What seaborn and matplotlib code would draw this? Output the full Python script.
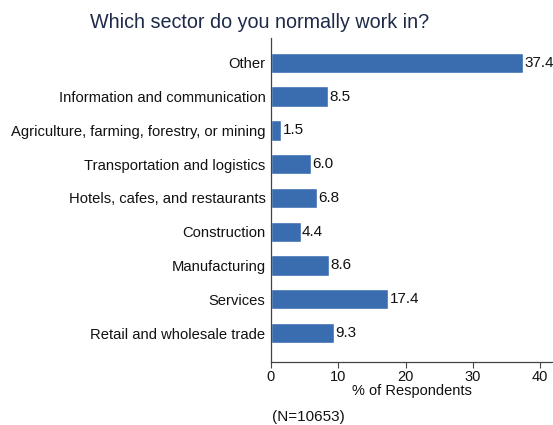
import matplotlib
matplotlib.use("Agg")
import matplotlib.pyplot as plt
import seaborn as sns
import pandas as pd

sectors = [
    "Other",
    "Information and communication",
    "Agriculture, farming, forestry, or mining",
    "Transportation and logistics",
    "Hotels, cafes, and restaurants",
    "Construction",
    "Manufacturing",
    "Services",
    "Retail and wholesale trade",
]
percent = [37.4, 8.5, 1.5, 6.0, 6.8, 4.4, 8.6, 17.4, 9.3]
x_ticks = [0, 10, 20, 30, 40]

df = pd.DataFrame({"sector": sectors, "percent": percent})

sns.set_theme(style="white")
plt.rcParams["font.family"] = ["Liberation Sans", "DejaVu Sans"]

fig = plt.figure(figsize=(5.53, 4.25), dpi=100)
ax = fig.add_axes([0.490, 0.148, 0.510, 0.763])

sns.barplot(data=df, x="percent", y="sector", order=sectors, orient="h",
            color="#3a6db0", saturation=1, width=0.6, ax=ax)

ax.bar_label(ax.containers[0], fmt="%.1f", padding=1, fontsize=11, color="#111111")

ax.set_xlim(0, 41.9)
ax.set_ylim(8.86, -0.74)
ax.set_xticks(x_ticks)
ax.set_xticklabels([str(t) for t in x_ticks])
ax.set_xlabel("% of Respondents", fontsize=10.5, color="#111111", labelpad=0)
ax.set_ylabel("")

for side in ("top", "right"):
    ax.spines[side].set_visible(False)
for side in ("left", "bottom"):
    ax.spines[side].set_color("#444444")
    ax.spines[side].set_linewidth(0.9)

ax.tick_params(axis="x", direction="out", length=4, width=0.8, color="#444444",
               labelsize=10.5, labelcolor="#111111", pad=2, bottom=True)
ax.tick_params(axis="y", length=0, labelsize=10.6, labelcolor="#111111", pad=4)

fig.text(0.470, 0.948, "Which sector do you normally work in?", ha="center",
         va="center", fontsize=14.2, color="#1e2a4a")
fig.text(0.492, 0.018, "(N=10653)", ha="left", va="center", fontsize=11,
         color="#111111")

fig.savefig("out.png", dpi=100)
